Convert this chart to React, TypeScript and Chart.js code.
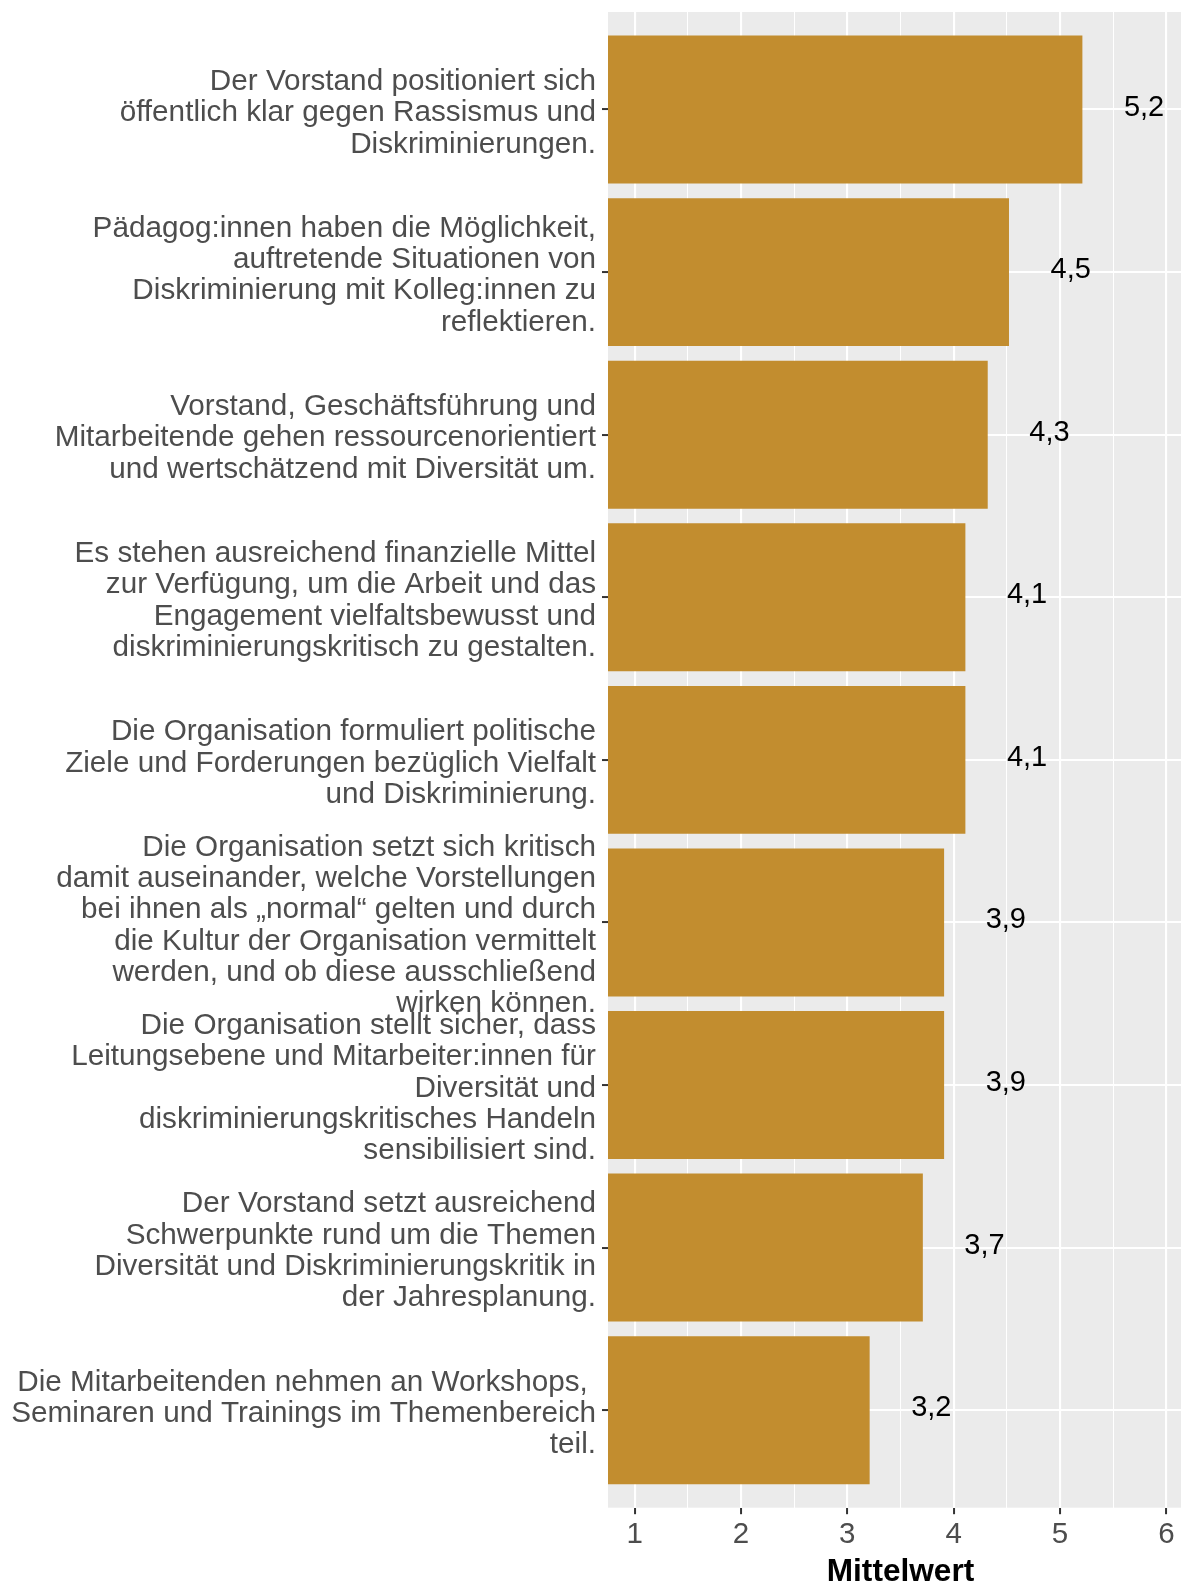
import React, { useEffect, useRef } from 'react';
import { Chart, registerables } from 'chart.js';

Chart.register(...registerables);

// ---------- data ----------
const CATEGORY_LABELS: string[][] = [
  ['Der Vorstand positioniert sich', 'öffentlich klar gegen Rassismus und', 'Diskriminierungen.'],
  ['Pädagog:innen haben die Möglichkeit,', 'auftretende Situationen von', 'Diskriminierung mit Kolleg:innen zu', 'reflektieren.'],
  ['Vorstand, Geschäftsführung und', 'Mitarbeitende gehen ressourcenorientiert', 'und wertschätzend mit Diversität um.'],
  ['Es stehen ausreichend finanzielle Mittel', 'zur Verfügung, um die Arbeit und das', 'Engagement vielfaltsbewusst und', 'diskriminierungskritisch zu gestalten.'],
  ['Die Organisation formuliert politische', 'Ziele und Forderungen bezüglich Vielfalt', 'und Diskriminierung.'],
  ['Die Organisation setzt sich kritisch', 'damit auseinander, welche Vorstellungen', 'bei ihnen als \u201Enormal\u201C gelten und durch', 'die Kultur der Organisation vermittelt', 'werden, und ob diese ausschließend', 'wirken können.'],
  ['Die Organisation stellt sicher, dass', 'Leitungsebene und Mitarbeiter:innen für', 'Diversität und', 'diskriminierungskritisches Handeln', 'sensibilisiert sind.'],
  ['Der Vorstand setzt ausreichend', 'Schwerpunkte rund um die Themen', 'Diversität und Diskriminierungskritik in', 'der Jahresplanung.'],
  ['Die Mitarbeitenden nehmen an Workshops, ', 'Seminaren und Trainings im Themenbereich', 'teil.'],
];
const MEAN_VALUES: number[] = [5.21, 4.52, 4.32, 4.11, 4.11, 3.91, 3.91, 3.71, 3.21];
const X_MAJOR_TICKS: number[] = [1, 2, 3, 4, 5, 6];
const X_MINOR_TICKS: number[] = [1.5, 2.5, 3.5, 4.5, 5.5];
const X_MIN = 0.75;
const X_MAX = 6.25;
const LABEL_NUDGE = 0.58;
const AXIS_TITLE = 'Mittelwert';

// ---------- style ----------
const FONT = '"Liberation Sans", Arial, Helvetica, sans-serif';
const BAR_COLOR = '#C28D2F';
const PANEL_BG = '#EBEBEB';
const AXIS_TEXT = '#4D4D4D';
const CANVAS_W = 1200;
const CANVAS_H = 1583;

const fmt = (v: number) => v.toFixed(1).replace('.', ',');
const isMajor = (v: number) => X_MAJOR_TICKS.includes(v);

const panelBackground = {
  id: 'panelBackground',
  beforeDraw(chart: any) {
    const { ctx, chartArea } = chart;
    if (!chartArea) return;
    ctx.save();
    ctx.fillStyle = PANEL_BG;
    ctx.fillRect(chartArea.left, chartArea.top, chartArea.right - chartArea.left, chartArea.bottom - chartArea.top);
    ctx.restore();
  },
};

const valueLabels = {
  id: 'valueLabels',
  afterDatasetsDraw(chart: any) {
    const { ctx } = chart;
    const xs = chart.scales.x;
    const meta = chart.getDatasetMeta(0);
    ctx.save();
    ctx.font = `29px ${FONT}`;
    ctx.fillStyle = '#000000';
    ctx.textAlign = 'center';
    ctx.textBaseline = 'alphabetic';
    MEAN_VALUES.forEach((v, i) => {
      const el = meta.data[i];
      if (!el) return;
      const x = xs.getPixelForValue(v + LABEL_NUDGE);
      ctx.fillText(fmt(v), x, el.y + 6);
    });
    ctx.restore();
  },
};

export default function App() {
  const canvasRef = useRef<HTMLCanvasElement | null>(null);

  useEffect(() => {
    const canvas = canvasRef.current;
    if (!canvas) return;
    const chart = new Chart(canvas, {
      type: 'bar',
      data: {
        datasets: [
          {
            data: MEAN_VALUES.map((v, i) => ({ x: v, y: i })),
            backgroundColor: BAR_COLOR,
            borderWidth: 0,
            categoryPercentage: 1,
            barPercentage: 0.91,
            clip: 0,
          } as any,
        ],
      },
      options: {
        indexAxis: 'y',
        responsive: false,
        maintainAspectRatio: false,
        animation: false,
        devicePixelRatio: 1,
        layout: { padding: { top: 12, right: 7, bottom: 0, left: 0 } },
        plugins: {
          legend: { display: false },
          tooltip: { enabled: false },
        },
        scales: {
          y: {
            type: 'linear',
            offset: false,
            min: -0.6,
            max: CATEGORY_LABELS.length - 1 + 0.6,
            reverse: true,
            afterBuildTicks: (s: any) => {
              s.ticks = CATEGORY_LABELS.map((_, i) => ({ value: i }));
            },
            afterFit: (s: any) => {
              s.width = 608;
              s.paddingTop = 0;
              s.paddingBottom = 0;
            },
            ticks: {
              autoSkip: false,
              callback: (v: any) => CATEGORY_LABELS[Math.round(Number(v))] ?? '',
              color: AXIS_TEXT,
              padding: 6,
              labelOffset: 3.5,
              font: { family: FONT, size: 29.7, lineHeight: 1.055 },
            },
            grid: {
              offset: false,
              color: '#FFFFFF',
              lineWidth: 2.1,
              drawTicks: true,
              tickLength: 6,
              tickWidth: 2,
              tickColor: '#333333',
            },
            border: { display: false },
          },
          x: {
            type: 'linear',
            position: 'bottom',
            offset: false,
            min: X_MIN,
            max: X_MAX,
            afterBuildTicks: (s: any) => {
              s.ticks = [...X_MAJOR_TICKS, ...X_MINOR_TICKS].sort((a, b) => a - b).map((v) => ({ value: v }));
            },
            afterFit: (s: any) => {
              s.height = 75.3;
              s.paddingLeft = 0;
              s.paddingRight = 0;
            },
            ticks: {
              autoSkip: false,
              maxRotation: 0,
              minRotation: 0,
              callback: (v: any) => (isMajor(Number(v)) ? String(v) : ''),
              color: AXIS_TEXT,
              padding: 3,
              font: { family: FONT, size: 29.5 },
            },
            grid: {
              offset: false,
              color: '#FFFFFF',
              lineWidth: (ctx: any) => (ctx.tick && !isMajor(ctx.tick.value) ? 1.05 : 2.1),
              drawTicks: true,
              tickLength: 6.5,
              tickWidth: 2,
              tickColor: (ctx: any) => (ctx.tick && !isMajor(ctx.tick.value) ? 'rgba(0,0,0,0)' : '#333333'),
            },
            border: { display: false },
            title: {
              display: true,
              text: AXIS_TITLE,
              color: '#000000',
              font: { family: FONT, size: 31.6, weight: 'bold', lineHeight: 0.6 },
              padding: { top: 0, bottom: 1 },
            },
          },
        },
      } as any,
      plugins: [panelBackground, valueLabels],
    });
    return () => chart.destroy();
  }, []);

  return (
    <div
      style={{
        position: 'fixed',
        left: 0,
        top: 0,
        width: 1181,
        height: 1583,
        overflow: 'hidden',
        background: '#FFFFFF',
      }}
    >
      <canvas
        ref={canvasRef}
        width={CANVAS_W}
        height={CANVAS_H}
        style={{ display: 'block', width: CANVAS_W, height: CANVAS_H }}
      />
    </div>
  );
}
